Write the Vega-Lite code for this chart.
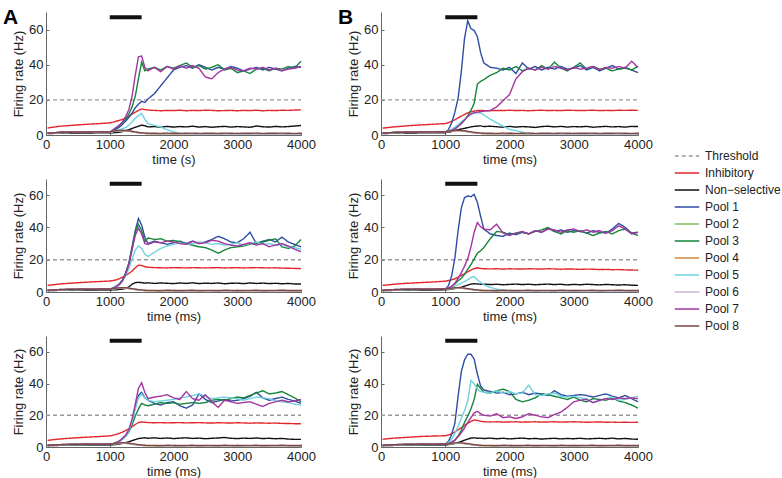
{
"$schema": "https://vega.github.io/schema/vega-lite/v6.json",
"padding": {"left": 3, "top": 7, "right": 5, "bottom": 0},
"background": "white",
"datasets": {
"stim": [{"on": 1000, "off": 1500}],
"A1": [
{"t":0,"Th":20},
{"t":25,"I":4.0,"N":0.8,"P1":1.0,"P2":1.1,"P3":1.0,"P4":1.0,"P5":1.0,"P6":1.0,"P7":1.0,"P8":1.1},
{"t":200,"I":4.9,"N":1.0,"P1":1.4,"P2":1.3,"P3":1.5,"P4":1.4,"P5":1.3,"P6":1.3,"P7":1.5,"P8":1.4},
{"t":400,"I":5.5,"N":1.1,"P1":1.6,"P2":1.5,"P3":1.6,"P4":1.6,"P5":1.5,"P6":1.5,"P7":1.7,"P8":1.6},
{"t":600,"I":6.0,"N":1.1,"P1":1.7,"P2":1.6,"P3":1.7,"P4":1.7,"P5":1.6,"P6":1.7,"P7":1.8,"P8":1.7},
{"t":800,"I":6.4,"N":1.2,"P1":1.7,"P2":1.7,"P3":1.7,"P4":1.7,"P5":1.6,"P6":1.8,"P7":1.8,"P8":1.8},
{"t":1000,"I":6.9,"N":1.2,"P1":1.6,"P2":1.8,"P3":1.6,"P4":1.9,"P5":1.5,"P6":1.8,"P7":1.6,"P8":1.9},
{"t":1050,"I":7.3,"N":1.3,"P1":2.3,"P2":1.9,"P3":2.5,"P4":2.0,"P5":1.9,"P6":2.0,"P7":3.0,"P8":2.1},
{"t":1100,"I":7.8,"N":1.4,"P1":3.2,"P2":2.1,"P3":3.8,"P4":2.2,"P5":2.4,"P6":2.2,"P7":4.3,"P8":2.4},
{"t":1150,"I":8.3,"N":1.6,"P1":4.5,"P2":2.3,"P3":5.5,"P4":2.4,"P5":3.0,"P6":2.3,"P7":5.5,"P8":2.6},
{"t":1200,"I":8.9,"N":1.9,"P1":6.0,"P2":2.4,"P3":7.0,"P4":2.5,"P5":3.6,"P6":2.4,"P7":7.5,"P8":2.7},
{"t":1250,"I":9.7,"N":2.4,"P1":8.0,"P2":2.3,"P3":9.0,"P4":2.4,"P5":4.3,"P6":2.4,"P7":10.5,"P8":2.6},
{"t":1300,"I":10.6,"N":3.0,"P1":10.0,"P2":2.1,"P3":12.0,"P4":2.2,"P5":5.5,"P6":2.2,"P7":14.5,"P8":2.4},
{"t":1350,"I":11.8,"N":3.7,"P1":12.5,"P2":1.8,"P3":16.0,"P4":1.9,"P5":7.5,"P6":1.9,"P7":22.0,"P8":2.1},
{"t":1400,"I":13.0,"N":4.4,"P1":15.5,"P2":1.5,"P3":22.0,"P4":1.6,"P5":9.5,"P6":1.6,"P7":34.0,"P8":1.8},
{"t":1450,"I":14.0,"N":5.0,"P1":17.5,"P2":1.2,"P3":32.0,"P4":1.3,"P5":11.0,"P6":1.3,"P7":44.5,"P8":1.5},
{"t":1500,"I":14.8,"N":5.6,"P1":19.2,"P2":1.0,"P3":41.5,"P4":1.1,"P5":12.2,"P6":1.1,"P7":45.0,"P8":1.3},
{"t":1550,"I":14.5,"N":5.3,"P1":18.5,"P2":0.9,"P3":36.5,"P4":0.9,"P5":9.0,"P6":0.9,"P7":38.5,"P8":1.1},
{"t":1600,"I":14.2,"N":4.6,"P1":20.5,"P2":0.8,"P3":37.5,"P4":0.8,"P5":6.5,"P6":0.8,"P7":36.5,"P8":1.0},
{"t":1700,"I":14.0,"N":4.8,"P1":23.5,"P2":0.7,"P3":38.5,"P4":0.7,"P5":5.5,"P6":0.7,"P7":38.5,"P8":1.0},
{"t":1800,"I":13.8,"N":4.4,"P1":28.0,"P2":0.7,"P3":37.0,"P4":0.6,"P5":4.5,"P6":0.7,"P7":36.0,"P8":0.9},
{"t":1900,"I":14.0,"N":4.9,"P1":32.5,"P2":0.6,"P3":39.0,"P4":0.7,"P5":3.0,"P6":0.6,"P7":39.0,"P8":1.1},
{"t":2000,"I":13.9,"N":4.5,"P1":37.0,"P2":0.6,"P3":38.0,"P4":0.6,"P5":1.8,"P6":0.7,"P7":37.5,"P8":1.0},
{"t":2100,"I":14.1,"N":4.8,"P1":38.5,"P2":0.7,"P3":39.5,"P4":0.6,"P5":1.0,"P6":0.6,"P7":39.5,"P8":0.9},
{"t":2200,"I":13.8,"N":4.6,"P1":39.5,"P2":0.6,"P3":41.0,"P4":0.7,"P5":0.8,"P6":0.6,"P7":38.0,"P8":1.0},
{"t":2300,"I":14.0,"N":5.0,"P1":38.0,"P2":0.6,"P3":38.5,"P4":0.6,"P5":0.7,"P6":0.7,"P7":39.5,"P8":1.1},
{"t":2400,"I":13.9,"N":4.5,"P1":40.0,"P2":0.7,"P3":39.5,"P4":0.6,"P5":0.6,"P6":0.6,"P7":38.0,"P8":0.9},
{"t":2500,"I":14.1,"N":4.8,"P1":38.5,"P2":0.6,"P3":37.5,"P4":0.6,"P5":0.7,"P6":0.6,"P7":33.0,"P8":1.0},
{"t":2600,"I":14.0,"N":4.4,"P1":37.0,"P2":0.6,"P3":38.5,"P4":0.7,"P5":0.6,"P6":0.6,"P7":32.0,"P8":1.0},
{"t":2700,"I":13.8,"N":4.7,"P1":38.5,"P2":0.7,"P3":40.0,"P4":0.6,"P5":0.7,"P6":0.7,"P7":35.5,"P8":0.9},
{"t":2800,"I":13.9,"N":4.9,"P1":37.5,"P2":0.6,"P3":37.0,"P4":0.6,"P5":0.6,"P6":0.6,"P7":37.5,"P8":1.1},
{"t":2900,"I":14.0,"N":4.5,"P1":39.0,"P2":0.6,"P3":38.0,"P4":0.7,"P5":0.6,"P6":0.6,"P7":38.5,"P8":1.0},
{"t":3000,"I":13.8,"N":4.8,"P1":38.0,"P2":0.7,"P3":35.5,"P4":0.6,"P5":0.7,"P6":0.6,"P7":37.0,"P8":0.9},
{"t":3100,"I":14.0,"N":4.6,"P1":36.5,"P2":0.6,"P3":36.5,"P4":0.6,"P5":0.6,"P6":0.7,"P7":36.5,"P8":1.0},
{"t":3200,"I":13.9,"N":4.4,"P1":37.5,"P2":0.6,"P3":35.0,"P4":0.7,"P5":0.6,"P6":0.6,"P7":38.0,"P8":1.0},
{"t":3300,"I":14.1,"N":5.1,"P1":38.5,"P2":0.6,"P3":37.5,"P4":0.6,"P5":0.7,"P6":0.6,"P7":37.5,"P8":1.1},
{"t":3400,"I":13.8,"N":4.7,"P1":37.0,"P2":0.7,"P3":38.0,"P4":0.6,"P5":0.6,"P6":0.7,"P7":38.5,"P8":0.9},
{"t":3500,"I":14.0,"N":4.5,"P1":38.5,"P2":0.6,"P3":36.5,"P4":0.6,"P5":0.6,"P6":0.6,"P7":37.0,"P8":1.0},
{"t":3600,"I":13.9,"N":4.9,"P1":37.5,"P2":0.6,"P3":38.0,"P4":0.7,"P5":0.7,"P6":0.6,"P7":38.0,"P8":1.0},
{"t":3700,"I":14.1,"N":4.6,"P1":36.5,"P2":0.7,"P3":37.5,"P4":0.6,"P5":0.6,"P6":0.6,"P7":36.5,"P8":1.1},
{"t":3800,"I":14.0,"N":4.8,"P1":38.0,"P2":0.6,"P3":39.0,"P4":0.6,"P5":0.6,"P6":0.7,"P7":37.5,"P8":1.0},
{"t":3900,"I":14.2,"N":5.1,"P1":39.0,"P2":0.6,"P3":38.0,"P4":0.7,"P5":0.7,"P6":0.6,"P7":38.0,"P8":0.9},
{"t":4000,"I":14.3,"N":5.4,"P1":38.5,"P2":0.6,"P3":42.0,"P4":0.6,"P5":0.6,"P6":0.6,"P7":39.0,"P8":1.0,"Th":20}
],
"B1": [
{"t":0,"Th":20},
{"t":25,"I":3.9,"N":0.8,"P1":1.0,"P2":1.1,"P3":1.0,"P4":1.0,"P5":1.0,"P6":1.0,"P7":1.0,"P8":1.1},
{"t":200,"I":4.6,"N":1.0,"P1":1.4,"P2":1.3,"P3":1.5,"P4":1.4,"P5":1.3,"P6":1.3,"P7":1.5,"P8":1.4},
{"t":400,"I":5.2,"N":1.1,"P1":1.6,"P2":1.5,"P3":1.6,"P4":1.6,"P5":1.5,"P6":1.5,"P7":1.7,"P8":1.6},
{"t":600,"I":5.7,"N":1.2,"P1":1.7,"P2":1.6,"P3":1.7,"P4":1.7,"P5":1.6,"P6":1.7,"P7":1.8,"P8":1.7},
{"t":800,"I":6.1,"N":1.2,"P1":1.7,"P2":1.7,"P3":1.7,"P4":1.7,"P5":1.6,"P6":1.8,"P7":1.8,"P8":1.8},
{"t":1000,"I":6.5,"N":1.3,"P1":1.6,"P2":1.8,"P3":1.6,"P4":1.9,"P5":1.5,"P6":1.8,"P7":1.6,"P8":1.9},
{"t":1050,"I":7.0,"N":1.6,"P1":3.0,"P2":1.9,"P3":2.0,"P4":2.0,"P5":2.2,"P6":2.0,"P7":2.0,"P8":2.1},
{"t":1100,"I":7.8,"N":2.0,"P1":7.0,"P2":2.1,"P3":2.8,"P4":2.2,"P5":3.2,"P6":2.2,"P7":2.7,"P8":2.4},
{"t":1150,"I":8.7,"N":2.5,"P1":13.0,"P2":2.3,"P3":3.8,"P4":2.4,"P5":4.5,"P6":2.3,"P7":3.4,"P8":2.6},
{"t":1200,"I":9.7,"N":3.0,"P1":21.0,"P2":2.4,"P3":5.0,"P4":2.5,"P5":6.0,"P6":2.4,"P7":4.8,"P8":2.7},
{"t":1250,"I":10.7,"N":3.4,"P1":36.0,"P2":2.3,"P3":6.5,"P4":2.4,"P5":7.5,"P6":2.4,"P7":6.5,"P8":2.6},
{"t":1300,"I":11.7,"N":3.8,"P1":55.0,"P2":2.1,"P3":8.5,"P4":2.2,"P5":9.0,"P6":2.2,"P7":8.5,"P8":2.4},
{"t":1350,"I":12.6,"N":4.2,"P1":65.0,"P2":1.8,"P3":11.0,"P4":1.9,"P5":10.5,"P6":1.9,"P7":10.5,"P8":2.1},
{"t":1400,"I":13.2,"N":4.6,"P1":60.5,"P2":1.5,"P3":14.0,"P4":1.6,"P5":11.8,"P6":1.6,"P7":12.0,"P8":1.8},
{"t":1450,"I":13.6,"N":4.9,"P1":59.5,"P2":1.2,"P3":18.0,"P4":1.3,"P5":12.3,"P6":1.3,"P7":12.8,"P8":1.5},
{"t":1500,"I":13.9,"N":5.1,"P1":56.0,"P2":1.0,"P3":29.0,"P4":1.1,"P5":12.6,"P6":1.1,"P7":13.0,"P8":1.3},
{"t":1550,"I":14.0,"N":5.2,"P1":47.0,"P2":0.9,"P3":30.5,"P4":0.9,"P5":12.5,"P6":0.9,"P7":13.3,"P8":1.1},
{"t":1600,"I":13.9,"N":4.8,"P1":41.0,"P2":0.8,"P3":31.5,"P4":0.8,"P5":11.5,"P6":0.8,"P7":13.5,"P8":1.0},
{"t":1700,"I":13.8,"N":5.0,"P1":38.5,"P2":0.7,"P3":34.0,"P4":0.7,"P5":9.0,"P6":0.7,"P7":14.0,"P8":1.0},
{"t":1800,"I":14.0,"N":4.7,"P1":38.0,"P2":0.7,"P3":35.5,"P4":0.6,"P5":7.0,"P6":0.7,"P7":16.0,"P8":0.9},
{"t":1900,"I":13.9,"N":4.4,"P1":37.0,"P2":0.6,"P3":38.0,"P4":0.7,"P5":5.0,"P6":0.6,"P7":19.5,"P8":1.1},
{"t":2000,"I":14.1,"N":4.9,"P1":38.5,"P2":0.6,"P3":37.0,"P4":0.6,"P5":3.2,"P6":0.7,"P7":23.0,"P8":1.0},
{"t":2100,"I":13.9,"N":4.5,"P1":35.0,"P2":0.7,"P3":39.0,"P4":0.6,"P5":2.5,"P6":0.6,"P7":32.0,"P8":0.9},
{"t":2200,"I":14.0,"N":4.8,"P1":41.0,"P2":0.6,"P3":36.5,"P4":0.7,"P5":1.5,"P6":0.6,"P7":36.0,"P8":1.0},
{"t":2300,"I":13.8,"N":4.6,"P1":37.5,"P2":0.6,"P3":38.0,"P4":0.6,"P5":0.9,"P6":0.7,"P7":38.0,"P8":1.1},
{"t":2400,"I":14.0,"N":4.3,"P1":39.0,"P2":0.7,"P3":37.0,"P4":0.6,"P5":0.7,"P6":0.6,"P7":37.0,"P8":0.9},
{"t":2500,"I":14.1,"N":4.8,"P1":37.0,"P2":0.6,"P3":39.5,"P4":0.6,"P5":0.6,"P6":0.6,"P7":38.5,"P8":1.0},
{"t":2600,"I":13.9,"N":5.0,"P1":38.5,"P2":0.6,"P3":37.5,"P4":0.7,"P5":0.7,"P6":0.6,"P7":37.5,"P8":1.0},
{"t":2700,"I":14.0,"N":4.6,"P1":37.5,"P2":0.7,"P3":41.5,"P4":0.6,"P5":0.6,"P6":0.7,"P7":39.0,"P8":0.9},
{"t":2800,"I":13.9,"N":4.9,"P1":39.0,"P2":0.6,"P3":38.0,"P4":0.6,"P5":0.6,"P6":0.6,"P7":38.0,"P8":1.1},
{"t":2900,"I":14.1,"N":4.5,"P1":37.5,"P2":0.6,"P3":36.5,"P4":0.7,"P5":0.7,"P6":0.6,"P7":37.0,"P8":1.0},
{"t":3000,"I":14.0,"N":4.8,"P1":38.0,"P2":0.7,"P3":38.5,"P4":0.6,"P5":0.6,"P6":0.6,"P7":38.5,"P8":0.9},
{"t":3100,"I":13.9,"N":4.6,"P1":39.5,"P2":0.6,"P3":41.0,"P4":0.6,"P5":0.6,"P6":0.7,"P7":37.5,"P8":1.0},
{"t":3200,"I":14.0,"N":4.9,"P1":37.0,"P2":0.6,"P3":37.5,"P4":0.7,"P5":0.7,"P6":0.6,"P7":38.0,"P8":1.0},
{"t":3300,"I":14.1,"N":4.4,"P1":38.5,"P2":0.6,"P3":39.0,"P4":0.6,"P5":0.6,"P6":0.6,"P7":39.0,"P8":1.1},
{"t":3400,"I":13.9,"N":4.7,"P1":36.5,"P2":0.7,"P3":37.5,"P4":0.6,"P5":0.6,"P6":0.7,"P7":37.0,"P8":0.9},
{"t":3500,"I":14.0,"N":4.9,"P1":38.0,"P2":0.6,"P3":38.0,"P4":0.6,"P5":0.7,"P6":0.6,"P7":38.5,"P8":1.0},
{"t":3600,"I":13.9,"N":4.6,"P1":39.5,"P2":0.6,"P3":36.5,"P4":0.7,"P5":0.6,"P6":0.6,"P7":38.0,"P8":1.0},
{"t":3700,"I":14.1,"N":4.8,"P1":37.5,"P2":0.7,"P3":37.5,"P4":0.6,"P5":0.6,"P6":0.6,"P7":39.0,"P8":1.1},
{"t":3800,"I":14.0,"N":4.5,"P1":38.5,"P2":0.6,"P3":38.0,"P4":0.6,"P5":0.7,"P6":0.7,"P7":38.0,"P8":1.0},
{"t":3900,"I":14.1,"N":4.9,"P1":37.0,"P2":0.6,"P3":37.0,"P4":0.7,"P5":0.6,"P6":0.6,"P7":42.0,"P8":0.9},
{"t":4000,"I":14.0,"N":4.8,"P1":35.5,"P2":0.6,"P3":39.0,"P4":0.6,"P5":0.6,"P6":0.6,"P7":38.5,"P8":1.0,"Th":20}
],
"A2": [
{"t":0,"Th":20},
{"t":25,"I":4.1,"N":0.8,"P1":1.0,"P2":1.1,"P3":1.0,"P4":1.0,"P5":1.0,"P6":1.0,"P7":1.0,"P8":1.1},
{"t":200,"I":4.9,"N":1.0,"P1":1.4,"P2":1.3,"P3":1.5,"P4":1.4,"P5":1.3,"P6":1.3,"P7":1.5,"P8":1.4},
{"t":400,"I":5.5,"N":1.1,"P1":1.6,"P2":1.5,"P3":1.6,"P4":1.6,"P5":1.5,"P6":1.5,"P7":1.7,"P8":1.6},
{"t":600,"I":6.0,"N":1.2,"P1":1.7,"P2":1.6,"P3":1.7,"P4":1.7,"P5":1.6,"P6":1.7,"P7":1.8,"P8":1.7},
{"t":800,"I":6.4,"N":1.2,"P1":1.7,"P2":1.7,"P3":1.7,"P4":1.7,"P5":1.6,"P6":1.8,"P7":1.8,"P8":1.8},
{"t":1000,"I":6.8,"N":1.2,"P1":1.6,"P2":1.8,"P3":1.6,"P4":1.9,"P5":1.5,"P6":1.8,"P7":1.6,"P8":1.9},
{"t":1050,"I":7.1,"N":1.3,"P1":2.5,"P2":1.9,"P3":2.4,"P4":2.0,"P5":2.2,"P6":2.0,"P7":2.3,"P8":2.1},
{"t":1100,"I":7.5,"N":1.4,"P1":3.5,"P2":2.1,"P3":3.3,"P4":2.2,"P5":3.0,"P6":2.2,"P7":3.2,"P8":2.4},
{"t":1150,"I":8.2,"N":1.6,"P1":5.0,"P2":2.3,"P3":4.8,"P4":2.4,"P5":4.3,"P6":2.3,"P7":4.6,"P8":2.6},
{"t":1200,"I":9.2,"N":1.8,"P1":7.5,"P2":2.4,"P3":7.2,"P4":2.5,"P5":6.5,"P6":2.4,"P7":7.0,"P8":2.7},
{"t":1250,"I":10.3,"N":2.2,"P1":12.0,"P2":2.3,"P3":11.5,"P4":2.4,"P5":10.0,"P6":2.4,"P7":11.0,"P8":2.6},
{"t":1300,"I":11.5,"N":3.2,"P1":18.0,"P2":2.1,"P3":17.5,"P4":2.2,"P5":14.5,"P6":2.2,"P7":17.0,"P8":2.4},
{"t":1350,"I":13.0,"N":4.8,"P1":28.0,"P2":1.8,"P3":27.0,"P4":1.9,"P5":20.5,"P6":1.9,"P7":26.0,"P8":2.1},
{"t":1400,"I":15.0,"N":5.8,"P1":38.0,"P2":1.5,"P3":37.0,"P4":1.6,"P5":26.0,"P6":1.6,"P7":35.0,"P8":1.8},
{"t":1450,"I":16.6,"N":6.0,"P1":45.5,"P2":1.2,"P3":42.0,"P4":1.3,"P5":28.5,"P6":1.3,"P7":39.5,"P8":1.5},
{"t":1500,"I":16.4,"N":5.8,"P1":41.5,"P2":1.0,"P3":38.0,"P4":1.1,"P5":27.0,"P6":1.1,"P7":36.0,"P8":1.3},
{"t":1550,"I":15.7,"N":5.5,"P1":34.0,"P2":0.9,"P3":31.0,"P4":0.9,"P5":23.5,"P6":0.9,"P7":30.0,"P8":1.1},
{"t":1600,"I":15.3,"N":5.7,"P1":30.0,"P2":0.8,"P3":33.5,"P4":0.8,"P5":22.0,"P6":0.8,"P7":29.5,"P8":1.0},
{"t":1700,"I":15.1,"N":5.3,"P1":31.5,"P2":0.7,"P3":32.5,"P4":0.7,"P5":24.5,"P6":0.7,"P7":31.0,"P8":1.0},
{"t":1800,"I":15.0,"N":5.6,"P1":30.5,"P2":0.7,"P3":33.0,"P4":0.6,"P5":27.0,"P6":0.7,"P7":30.5,"P8":0.9},
{"t":1900,"I":14.9,"N":5.4,"P1":29.5,"P2":0.6,"P3":31.5,"P4":0.7,"P5":28.5,"P6":0.6,"P7":31.5,"P8":1.1},
{"t":2000,"I":15.1,"N":5.2,"P1":30.5,"P2":0.6,"P3":32.0,"P4":0.6,"P5":29.5,"P6":0.7,"P7":31.0,"P8":1.0},
{"t":2100,"I":15.0,"N":5.6,"P1":31.5,"P2":0.7,"P3":31.0,"P4":0.6,"P5":30.5,"P6":0.6,"P7":30.0,"P8":0.9},
{"t":2200,"I":14.9,"N":5.3,"P1":30.0,"P2":0.6,"P3":30.0,"P4":0.7,"P5":29.5,"P6":0.6,"P7":29.5,"P8":1.0},
{"t":2300,"I":15.1,"N":5.7,"P1":31.5,"P2":0.6,"P3":29.0,"P4":0.6,"P5":30.0,"P6":0.7,"P7":31.5,"P8":1.1},
{"t":2400,"I":15.0,"N":5.2,"P1":30.0,"P2":0.7,"P3":28.0,"P4":0.6,"P5":31.0,"P6":0.6,"P7":30.0,"P8":0.9},
{"t":2500,"I":14.9,"N":5.5,"P1":31.0,"P2":0.6,"P3":27.5,"P4":0.6,"P5":30.5,"P6":0.6,"P7":30.5,"P8":1.0},
{"t":2600,"I":15.0,"N":5.3,"P1":32.5,"P2":0.6,"P3":26.0,"P4":0.7,"P5":29.5,"P6":0.6,"P7":32.0,"P8":1.0},
{"t":2700,"I":15.1,"N":5.6,"P1":34.5,"P2":0.7,"P3":24.0,"P4":0.6,"P5":30.0,"P6":0.7,"P7":31.5,"P8":0.9},
{"t":2800,"I":14.9,"N":5.1,"P1":33.0,"P2":0.6,"P3":26.0,"P4":0.6,"P5":29.0,"P6":0.6,"P7":30.0,"P8":1.1},
{"t":2900,"I":15.0,"N":5.4,"P1":31.0,"P2":0.6,"P3":27.5,"P4":0.7,"P5":29.5,"P6":0.6,"P7":29.0,"P8":1.0},
{"t":3000,"I":15.1,"N":5.5,"P1":30.5,"P2":0.7,"P3":28.0,"P4":0.6,"P5":30.5,"P6":0.6,"P7":28.5,"P8":0.9},
{"t":3100,"I":14.9,"N":5.2,"P1":33.0,"P2":0.6,"P3":28.5,"P4":0.6,"P5":29.0,"P6":0.7,"P7":29.5,"P8":1.0},
{"t":3200,"I":15.0,"N":5.6,"P1":37.0,"P2":0.6,"P3":29.5,"P4":0.7,"P5":30.0,"P6":0.6,"P7":30.5,"P8":1.0},
{"t":3300,"I":15.1,"N":5.3,"P1":30.0,"P2":0.6,"P3":30.5,"P4":0.6,"P5":31.0,"P6":0.6,"P7":29.0,"P8":1.1},
{"t":3400,"I":15.0,"N":5.5,"P1":31.5,"P2":0.7,"P3":31.0,"P4":0.6,"P5":29.5,"P6":0.7,"P7":30.0,"P8":0.9},
{"t":3500,"I":14.9,"N":5.2,"P1":32.5,"P2":0.6,"P3":32.0,"P4":0.6,"P5":30.0,"P6":0.6,"P7":28.0,"P8":1.0},
{"t":3600,"I":15.0,"N":5.4,"P1":31.0,"P2":0.6,"P3":33.0,"P4":0.7,"P5":29.0,"P6":0.6,"P7":29.0,"P8":1.0},
{"t":3700,"I":14.8,"N":5.1,"P1":34.0,"P2":0.7,"P3":28.0,"P4":0.6,"P5":29.5,"P6":0.6,"P7":30.0,"P8":1.1},
{"t":3800,"I":14.7,"N":5.3,"P1":31.0,"P2":0.6,"P3":27.0,"P4":0.6,"P5":28.0,"P6":0.7,"P7":28.5,"P8":1.0},
{"t":3900,"I":14.6,"N":5.0,"P1":29.5,"P2":0.6,"P3":28.5,"P4":0.7,"P5":27.5,"P6":0.6,"P7":26.5,"P8":0.9},
{"t":4000,"I":14.5,"N":4.9,"P1":28.0,"P2":0.6,"P3":32.5,"P4":0.6,"P5":26.5,"P6":0.6,"P7":25.0,"P8":1.0,"Th":20}
],
"B2": [
{"t":0,"Th":20},
{"t":25,"I":4.1,"N":0.8,"P1":1.0,"P2":1.1,"P3":1.0,"P4":1.0,"P5":1.0,"P6":1.0,"P7":1.0,"P8":1.1},
{"t":200,"I":4.8,"N":1.0,"P1":1.4,"P2":1.3,"P3":1.5,"P4":1.4,"P5":1.3,"P6":1.3,"P7":1.5,"P8":1.4},
{"t":400,"I":5.4,"N":1.1,"P1":1.6,"P2":1.5,"P3":1.6,"P4":1.6,"P5":1.5,"P6":1.5,"P7":1.7,"P8":1.6},
{"t":600,"I":5.8,"N":1.2,"P1":1.7,"P2":1.6,"P3":1.7,"P4":1.7,"P5":1.6,"P6":1.7,"P7":1.8,"P8":1.7},
{"t":800,"I":6.2,"N":1.2,"P1":1.7,"P2":1.7,"P3":1.7,"P4":1.7,"P5":1.6,"P6":1.8,"P7":1.8,"P8":1.8},
{"t":1000,"I":6.7,"N":1.3,"P1":1.6,"P2":1.8,"P3":1.6,"P4":1.9,"P5":1.5,"P6":1.8,"P7":1.6,"P8":1.9},
{"t":1050,"I":7.1,"N":1.5,"P1":4.0,"P2":1.9,"P3":2.3,"P4":2.0,"P5":2.0,"P6":2.0,"P7":2.5,"P8":2.1},
{"t":1100,"I":7.6,"N":1.8,"P1":10.0,"P2":2.1,"P3":3.5,"P4":2.2,"P5":2.8,"P6":2.2,"P7":3.5,"P8":2.4},
{"t":1150,"I":8.2,"N":2.2,"P1":21.0,"P2":2.3,"P3":5.0,"P4":2.4,"P5":3.6,"P6":2.3,"P7":5.5,"P8":2.6},
{"t":1200,"I":9.2,"N":2.6,"P1":38.0,"P2":2.4,"P3":7.0,"P4":2.5,"P5":4.5,"P6":2.4,"P7":8.5,"P8":2.7},
{"t":1250,"I":10.3,"N":3.0,"P1":52.0,"P2":2.3,"P3":8.5,"P4":2.4,"P5":5.5,"P6":2.4,"P7":12.0,"P8":2.6},
{"t":1300,"I":11.3,"N":3.6,"P1":58.5,"P2":2.1,"P3":11.0,"P4":2.2,"P5":6.5,"P6":2.2,"P7":16.0,"P8":2.4},
{"t":1350,"I":12.5,"N":4.3,"P1":59.5,"P2":1.8,"P3":14.0,"P4":1.9,"P5":7.5,"P6":1.9,"P7":20.5,"P8":2.1},
{"t":1400,"I":13.6,"N":4.9,"P1":59.0,"P2":1.5,"P3":17.0,"P4":1.6,"P5":9.0,"P6":1.6,"P7":28.0,"P8":1.8},
{"t":1450,"I":14.5,"N":5.1,"P1":60.5,"P2":1.2,"P3":20.5,"P4":1.3,"P5":9.5,"P6":1.3,"P7":37.0,"P8":1.5},
{"t":1500,"I":15.0,"N":5.0,"P1":55.5,"P2":1.0,"P3":24.0,"P4":1.1,"P5":7.5,"P6":1.1,"P7":43.0,"P8":1.3},
{"t":1550,"I":14.6,"N":4.8,"P1":47.0,"P2":0.9,"P3":25.5,"P4":0.9,"P5":6.0,"P6":0.9,"P7":40.5,"P8":1.1},
{"t":1600,"I":14.4,"N":4.9,"P1":39.0,"P2":0.8,"P3":27.5,"P4":0.8,"P5":4.5,"P6":0.8,"P7":39.0,"P8":1.0},
{"t":1700,"I":14.3,"N":4.6,"P1":36.0,"P2":0.7,"P3":33.0,"P4":0.7,"P5":2.8,"P6":0.7,"P7":38.5,"P8":1.0},
{"t":1800,"I":14.4,"N":4.8,"P1":35.0,"P2":0.7,"P3":37.5,"P4":0.6,"P5":1.8,"P6":0.7,"P7":42.0,"P8":0.9},
{"t":1900,"I":14.2,"N":4.5,"P1":34.5,"P2":0.6,"P3":37.0,"P4":0.7,"P5":1.0,"P6":0.6,"P7":36.5,"P8":1.1},
{"t":2000,"I":14.4,"N":4.7,"P1":36.5,"P2":0.6,"P3":35.5,"P4":0.6,"P5":0.8,"P6":0.7,"P7":35.0,"P8":1.0},
{"t":2100,"I":14.3,"N":4.9,"P1":35.5,"P2":0.7,"P3":36.5,"P4":0.6,"P5":0.7,"P6":0.6,"P7":36.5,"P8":0.9},
{"t":2200,"I":14.2,"N":4.6,"P1":37.0,"P2":0.6,"P3":37.0,"P4":0.7,"P5":0.6,"P6":0.6,"P7":37.5,"P8":1.0},
{"t":2300,"I":14.4,"N":4.8,"P1":36.0,"P2":0.6,"P3":36.0,"P4":0.6,"P5":0.7,"P6":0.7,"P7":36.0,"P8":1.1},
{"t":2400,"I":14.3,"N":4.5,"P1":38.0,"P2":0.7,"P3":37.5,"P4":0.6,"P5":0.6,"P6":0.6,"P7":38.0,"P8":0.9},
{"t":2500,"I":14.2,"N":4.7,"P1":37.0,"P2":0.6,"P3":38.5,"P4":0.6,"P5":0.6,"P6":0.6,"P7":37.0,"P8":1.0},
{"t":2600,"I":14.4,"N":4.9,"P1":39.5,"P2":0.6,"P3":40.0,"P4":0.7,"P5":0.7,"P6":0.6,"P7":39.0,"P8":1.0},
{"t":2700,"I":14.3,"N":4.6,"P1":37.5,"P2":0.7,"P3":37.5,"P4":0.6,"P5":0.6,"P6":0.7,"P7":38.5,"P8":0.9},
{"t":2800,"I":14.1,"N":4.8,"P1":38.5,"P2":0.6,"P3":36.0,"P4":0.6,"P5":0.6,"P6":0.6,"P7":37.0,"P8":1.1},
{"t":2900,"I":14.3,"N":4.4,"P1":37.0,"P2":0.6,"P3":38.0,"P4":0.7,"P5":0.7,"P6":0.6,"P7":38.5,"P8":1.0},
{"t":3000,"I":14.2,"N":4.7,"P1":38.0,"P2":0.7,"P3":37.0,"P4":0.6,"P5":0.6,"P6":0.6,"P7":39.0,"P8":0.9},
{"t":3100,"I":14.0,"N":4.5,"P1":37.5,"P2":0.6,"P3":38.0,"P4":0.6,"P5":0.6,"P6":0.7,"P7":37.5,"P8":1.0},
{"t":3200,"I":14.2,"N":4.8,"P1":36.5,"P2":0.6,"P3":36.5,"P4":0.7,"P5":0.7,"P6":0.6,"P7":38.5,"P8":1.0},
{"t":3300,"I":14.1,"N":4.6,"P1":38.0,"P2":0.6,"P3":35.0,"P4":0.6,"P5":0.6,"P6":0.6,"P7":37.0,"P8":1.1},
{"t":3400,"I":13.9,"N":4.4,"P1":37.0,"P2":0.7,"P3":36.5,"P4":0.6,"P5":0.6,"P6":0.7,"P7":38.0,"P8":0.9},
{"t":3500,"I":14.0,"N":4.7,"P1":36.5,"P2":0.6,"P3":37.5,"P4":0.6,"P5":0.7,"P6":0.6,"P7":36.5,"P8":1.0},
{"t":3600,"I":13.8,"N":4.5,"P1":39.0,"P2":0.6,"P3":36.0,"P4":0.7,"P5":0.6,"P6":0.6,"P7":38.0,"P8":1.0},
{"t":3700,"I":13.9,"N":4.3,"P1":42.5,"P2":0.7,"P3":38.0,"P4":0.6,"P5":0.6,"P6":0.6,"P7":41.0,"P8":1.1},
{"t":3800,"I":13.7,"N":4.5,"P1":40.0,"P2":0.6,"P3":39.0,"P4":0.6,"P5":0.7,"P6":0.7,"P7":39.0,"P8":1.0},
{"t":3900,"I":13.6,"N":4.2,"P1":36.5,"P2":0.6,"P3":36.5,"P4":0.7,"P5":0.6,"P6":0.6,"P7":36.0,"P8":0.9},
{"t":4000,"I":13.5,"N":4.1,"P1":37.0,"P2":0.6,"P3":35.0,"P4":0.6,"P5":0.6,"P6":0.6,"P7":37.0,"P8":1.0,"Th":20}
],
"A3": [
{"t":0,"Th":20},
{"t":25,"I":4.2,"N":0.8,"P1":1.0,"P2":1.1,"P3":1.0,"P4":1.0,"P5":1.0,"P6":1.0,"P7":1.0,"P8":1.1},
{"t":200,"I":5.0,"N":1.0,"P1":1.4,"P2":1.3,"P3":1.5,"P4":1.4,"P5":1.3,"P6":1.3,"P7":1.5,"P8":1.4},
{"t":400,"I":5.6,"N":1.1,"P1":1.6,"P2":1.5,"P3":1.6,"P4":1.6,"P5":1.5,"P6":1.5,"P7":1.7,"P8":1.6},
{"t":600,"I":6.1,"N":1.2,"P1":1.7,"P2":1.6,"P3":1.7,"P4":1.7,"P5":1.6,"P6":1.7,"P7":1.8,"P8":1.7},
{"t":800,"I":6.5,"N":1.2,"P1":1.7,"P2":1.7,"P3":1.7,"P4":1.7,"P5":1.6,"P6":1.8,"P7":1.8,"P8":1.8},
{"t":1000,"I":7.0,"N":1.3,"P1":1.6,"P2":1.8,"P3":1.6,"P4":1.9,"P5":1.5,"P6":1.8,"P7":1.6,"P8":1.9},
{"t":1050,"I":7.4,"N":1.4,"P1":2.0,"P2":1.9,"P3":2.0,"P4":2.0,"P5":2.0,"P6":2.0,"P7":2.0,"P8":2.1},
{"t":1100,"I":7.9,"N":1.6,"P1":2.8,"P2":2.1,"P3":2.7,"P4":2.2,"P5":2.8,"P6":2.2,"P7":2.8,"P8":2.4},
{"t":1150,"I":8.6,"N":1.9,"P1":3.7,"P2":2.3,"P3":3.6,"P4":2.4,"P5":3.7,"P6":2.3,"P7":3.8,"P8":2.6},
{"t":1200,"I":9.4,"N":2.3,"P1":5.3,"P2":2.4,"P3":5.0,"P4":2.5,"P5":5.2,"P6":2.4,"P7":5.5,"P8":2.7},
{"t":1250,"I":10.4,"N":2.8,"P1":7.2,"P2":2.3,"P3":6.8,"P4":2.4,"P5":7.0,"P6":2.4,"P7":7.5,"P8":2.6},
{"t":1300,"I":11.4,"N":3.3,"P1":10.5,"P2":2.1,"P3":9.5,"P4":2.2,"P5":10.0,"P6":2.2,"P7":11.0,"P8":2.4},
{"t":1350,"I":12.8,"N":4.0,"P1":16.5,"P2":1.8,"P3":14.0,"P4":1.9,"P5":16.0,"P6":1.9,"P7":17.5,"P8":2.1},
{"t":1400,"I":14.2,"N":4.7,"P1":25.0,"P2":1.5,"P3":19.5,"P4":1.6,"P5":24.0,"P6":1.6,"P7":27.0,"P8":1.8},
{"t":1450,"I":15.4,"N":5.3,"P1":32.5,"P2":1.2,"P3":24.0,"P4":1.3,"P5":31.0,"P6":1.3,"P7":37.0,"P8":1.5},
{"t":1500,"I":15.8,"N":5.6,"P1":34.5,"P2":1.0,"P3":27.5,"P4":1.1,"P5":33.5,"P6":1.1,"P7":40.5,"P8":1.3},
{"t":1550,"I":15.6,"N":5.8,"P1":31.0,"P2":0.9,"P3":26.5,"P4":0.9,"P5":31.0,"P6":0.9,"P7":34.5,"P8":1.1},
{"t":1600,"I":15.4,"N":5.5,"P1":29.5,"P2":0.8,"P3":26.0,"P4":0.8,"P5":29.5,"P6":0.8,"P7":30.5,"P8":1.0},
{"t":1700,"I":15.3,"N":5.8,"P1":27.5,"P2":0.7,"P3":27.0,"P4":0.7,"P5":28.5,"P6":0.7,"P7":31.5,"P8":1.0},
{"t":1800,"I":15.4,"N":5.4,"P1":26.5,"P2":0.7,"P3":28.0,"P4":0.6,"P5":29.0,"P6":0.7,"P7":32.0,"P8":0.9},
{"t":1900,"I":15.2,"N":5.7,"P1":28.0,"P2":0.6,"P3":27.5,"P4":0.7,"P5":29.5,"P6":0.6,"P7":33.0,"P8":1.1},
{"t":2000,"I":15.3,"N":5.3,"P1":28.5,"P2":0.6,"P3":28.0,"P4":0.6,"P5":30.0,"P6":0.7,"P7":31.0,"P8":1.0},
{"t":2100,"I":15.4,"N":5.6,"P1":26.0,"P2":0.7,"P3":27.0,"P4":0.6,"P5":31.0,"P6":0.6,"P7":30.0,"P8":0.9},
{"t":2200,"I":15.2,"N":5.8,"P1":24.5,"P2":0.6,"P3":27.5,"P4":0.7,"P5":31.5,"P6":0.6,"P7":35.0,"P8":1.0},
{"t":2300,"I":15.3,"N":5.4,"P1":26.5,"P2":0.6,"P3":28.0,"P4":0.6,"P5":32.5,"P6":0.7,"P7":30.5,"P8":1.1},
{"t":2400,"I":15.4,"N":5.6,"P1":33.5,"P2":0.7,"P3":27.5,"P4":0.6,"P5":33.5,"P6":0.6,"P7":29.5,"P8":0.9},
{"t":2500,"I":15.2,"N":5.2,"P1":30.0,"P2":0.6,"P3":28.0,"P4":0.6,"P5":32.0,"P6":0.6,"P7":33.0,"P8":1.0},
{"t":2600,"I":15.1,"N":5.5,"P1":28.0,"P2":0.6,"P3":29.5,"P4":0.7,"P5":30.5,"P6":0.6,"P7":28.5,"P8":1.0},
{"t":2700,"I":15.3,"N":5.7,"P1":29.0,"P2":0.7,"P3":30.0,"P4":0.6,"P5":31.0,"P6":0.7,"P7":25.0,"P8":0.9},
{"t":2800,"I":15.2,"N":6.0,"P1":30.0,"P2":0.6,"P3":29.5,"P4":0.6,"P5":31.5,"P6":0.6,"P7":29.5,"P8":1.1},
{"t":2900,"I":15.1,"N":5.5,"P1":29.0,"P2":0.6,"P3":30.5,"P4":0.7,"P5":31.0,"P6":0.6,"P7":28.5,"P8":1.0},
{"t":3000,"I":15.3,"N":5.3,"P1":29.5,"P2":0.7,"P3":31.5,"P4":0.6,"P5":30.5,"P6":0.6,"P7":27.5,"P8":0.9},
{"t":3100,"I":15.2,"N":5.6,"P1":30.5,"P2":0.6,"P3":31.0,"P4":0.6,"P5":29.5,"P6":0.7,"P7":28.0,"P8":1.0},
{"t":3200,"I":15.0,"N":5.4,"P1":32.0,"P2":0.6,"P3":32.5,"P4":0.7,"P5":30.5,"P6":0.6,"P7":28.5,"P8":1.0},
{"t":3300,"I":15.2,"N":5.7,"P1":34.5,"P2":0.6,"P3":34.0,"P4":0.6,"P5":31.5,"P6":0.6,"P7":27.0,"P8":1.1},
{"t":3400,"I":15.1,"N":5.3,"P1":31.0,"P2":0.7,"P3":35.5,"P4":0.6,"P5":31.0,"P6":0.7,"P7":25.5,"P8":0.9},
{"t":3500,"I":15.0,"N":5.5,"P1":29.5,"P2":0.6,"P3":33.5,"P4":0.6,"P5":30.5,"P6":0.6,"P7":27.5,"P8":1.0},
{"t":3600,"I":15.1,"N":5.2,"P1":30.5,"P2":0.6,"P3":34.0,"P4":0.7,"P5":29.0,"P6":0.6,"P7":28.5,"P8":1.0},
{"t":3700,"I":14.9,"N":5.4,"P1":31.5,"P2":0.7,"P3":35.0,"P4":0.6,"P5":28.5,"P6":0.6,"P7":29.5,"P8":1.1},
{"t":3800,"I":14.8,"N":5.0,"P1":30.0,"P2":0.6,"P3":33.0,"P4":0.6,"P5":28.0,"P6":0.7,"P7":28.5,"P8":1.0},
{"t":3900,"I":14.7,"N":4.8,"P1":29.0,"P2":0.6,"P3":31.0,"P4":0.7,"P5":27.0,"P6":0.6,"P7":29.0,"P8":0.9},
{"t":4000,"I":14.6,"N":4.8,"P1":27.5,"P2":0.6,"P3":28.5,"P4":0.6,"P5":26.5,"P6":0.6,"P7":30.0,"P8":1.0,"Th":20}
],
"B3": [
{"t":0,"Th":20},
{"t":25,"I":4.9,"N":0.8,"P1":1.0,"P2":1.1,"P3":1.0,"P4":1.0,"P5":1.0,"P6":1.0,"P7":1.0,"P8":1.1},
{"t":200,"I":5.6,"N":1.0,"P1":1.4,"P2":1.3,"P3":1.5,"P4":1.4,"P5":1.3,"P6":1.3,"P7":1.5,"P8":1.4},
{"t":400,"I":6.1,"N":1.1,"P1":1.6,"P2":1.5,"P3":1.6,"P4":1.6,"P5":1.5,"P6":1.5,"P7":1.7,"P8":1.6},
{"t":600,"I":6.6,"N":1.2,"P1":1.7,"P2":1.6,"P3":1.7,"P4":1.7,"P5":1.6,"P6":1.7,"P7":1.8,"P8":1.7},
{"t":800,"I":6.9,"N":1.2,"P1":1.7,"P2":1.7,"P3":1.7,"P4":1.7,"P5":1.6,"P6":1.8,"P7":1.8,"P8":1.8},
{"t":1000,"I":7.1,"N":1.3,"P1":1.8,"P2":1.8,"P3":1.6,"P4":1.9,"P5":1.5,"P6":1.8,"P7":1.6,"P8":1.9},
{"t":1050,"I":7.6,"N":1.5,"P1":3.5,"P2":1.9,"P3":2.2,"P4":2.0,"P5":2.8,"P6":2.0,"P7":2.0,"P8":2.1},
{"t":1100,"I":8.4,"N":1.8,"P1":8.0,"P2":2.1,"P3":3.0,"P4":2.2,"P5":5.0,"P6":2.2,"P7":3.0,"P8":2.4},
{"t":1150,"I":9.5,"N":2.2,"P1":15.0,"P2":2.3,"P3":4.3,"P4":2.4,"P5":8.5,"P6":2.3,"P7":4.3,"P8":2.6},
{"t":1200,"I":10.8,"N":2.8,"P1":32.0,"P2":2.4,"P3":7.0,"P4":2.5,"P5":13.0,"P6":2.4,"P7":6.5,"P8":2.7},
{"t":1250,"I":12.2,"N":3.5,"P1":47.5,"P2":2.3,"P3":10.5,"P4":2.4,"P5":18.0,"P6":2.4,"P7":9.0,"P8":2.6},
{"t":1300,"I":13.6,"N":4.3,"P1":55.0,"P2":2.1,"P3":15.5,"P4":2.2,"P5":23.0,"P6":2.2,"P7":12.0,"P8":2.4},
{"t":1350,"I":15.0,"N":5.0,"P1":58.5,"P2":1.8,"P3":19.5,"P4":1.9,"P5":29.0,"P6":1.9,"P7":15.5,"P8":2.1},
{"t":1400,"I":16.2,"N":5.6,"P1":58.5,"P2":1.5,"P3":24.0,"P4":1.6,"P5":42.0,"P6":1.6,"P7":18.5,"P8":1.8},
{"t":1450,"I":17.0,"N":5.8,"P1":55.5,"P2":1.2,"P3":30.0,"P4":1.3,"P5":40.0,"P6":1.3,"P7":21.5,"P8":1.5},
{"t":1500,"I":16.8,"N":5.5,"P1":46.0,"P2":1.0,"P3":39.5,"P4":1.1,"P5":36.5,"P6":1.1,"P7":22.5,"P8":1.3},
{"t":1550,"I":16.2,"N":5.6,"P1":38.5,"P2":0.9,"P3":37.0,"P4":0.9,"P5":35.0,"P6":0.9,"P7":21.0,"P8":1.1},
{"t":1600,"I":15.9,"N":5.3,"P1":36.0,"P2":0.8,"P3":34.5,"P4":0.8,"P5":34.5,"P6":0.8,"P7":20.0,"P8":1.0},
{"t":1700,"I":15.8,"N":5.6,"P1":35.0,"P2":0.7,"P3":34.0,"P4":0.7,"P5":34.0,"P6":0.7,"P7":19.5,"P8":1.0},
{"t":1800,"I":15.9,"N":5.2,"P1":34.0,"P2":0.7,"P3":35.5,"P4":0.6,"P5":35.5,"P6":0.7,"P7":21.0,"P8":0.9},
{"t":1900,"I":15.7,"N":5.5,"P1":34.5,"P2":0.6,"P3":36.5,"P4":0.7,"P5":34.0,"P6":0.6,"P7":18.5,"P8":1.1},
{"t":2000,"I":15.8,"N":5.1,"P1":33.0,"P2":0.6,"P3":35.0,"P4":0.6,"P5":35.0,"P6":0.7,"P7":19.0,"P8":1.0},
{"t":2100,"I":15.9,"N":5.4,"P1":33.5,"P2":0.7,"P3":30.0,"P4":0.6,"P5":33.5,"P6":0.6,"P7":18.0,"P8":0.9},
{"t":2200,"I":15.7,"N":5.6,"P1":34.5,"P2":0.6,"P3":28.5,"P4":0.7,"P5":34.0,"P6":0.6,"P7":19.0,"P8":1.0},
{"t":2300,"I":15.8,"N":5.2,"P1":33.0,"P2":0.6,"P3":29.5,"P4":0.6,"P5":39.0,"P6":0.7,"P7":21.0,"P8":1.1},
{"t":2400,"I":15.9,"N":5.4,"P1":34.0,"P2":0.7,"P3":31.0,"P4":0.6,"P5":33.0,"P6":0.6,"P7":20.0,"P8":0.9},
{"t":2500,"I":15.7,"N":5.0,"P1":33.5,"P2":0.6,"P3":33.5,"P4":0.6,"P5":32.5,"P6":0.6,"P7":19.0,"P8":1.0},
{"t":2600,"I":15.8,"N":5.3,"P1":32.5,"P2":0.6,"P3":33.0,"P4":0.7,"P5":33.5,"P6":0.6,"P7":18.5,"P8":1.0},
{"t":2700,"I":15.9,"N":5.5,"P1":35.5,"P2":0.7,"P3":32.0,"P4":0.6,"P5":34.0,"P6":0.7,"P7":20.5,"P8":0.9},
{"t":2800,"I":15.7,"N":5.1,"P1":33.0,"P2":0.6,"P3":31.0,"P4":0.6,"P5":32.0,"P6":0.6,"P7":22.0,"P8":1.1},
{"t":2900,"I":15.8,"N":5.4,"P1":32.0,"P2":0.6,"P3":30.0,"P4":0.7,"P5":31.5,"P6":0.6,"P7":25.0,"P8":1.0},
{"t":3000,"I":15.9,"N":5.2,"P1":32.5,"P2":0.7,"P3":31.5,"P4":0.6,"P5":32.0,"P6":0.6,"P7":28.5,"P8":0.9},
{"t":3100,"I":15.8,"N":5.5,"P1":33.0,"P2":0.6,"P3":29.5,"P4":0.6,"P5":31.0,"P6":0.7,"P7":29.5,"P8":1.0},
{"t":3200,"I":15.6,"N":5.1,"P1":32.5,"P2":0.6,"P3":28.5,"P4":0.7,"P5":30.5,"P6":0.6,"P7":30.0,"P8":1.0},
{"t":3300,"I":15.7,"N":5.3,"P1":31.5,"P2":0.6,"P3":30.5,"P4":0.6,"P5":28.0,"P6":0.6,"P7":28.0,"P8":1.1},
{"t":3400,"I":15.8,"N":5.5,"P1":32.5,"P2":0.7,"P3":30.0,"P4":0.6,"P5":29.0,"P6":0.7,"P7":29.5,"P8":0.9},
{"t":3500,"I":15.6,"N":5.2,"P1":33.5,"P2":0.6,"P3":29.5,"P4":0.6,"P5":30.5,"P6":0.6,"P7":30.5,"P8":1.0},
{"t":3600,"I":15.7,"N":5.6,"P1":32.0,"P2":0.6,"P3":31.0,"P4":0.7,"P5":31.5,"P6":0.6,"P7":30.0,"P8":1.0},
{"t":3700,"I":15.5,"N":5.1,"P1":31.0,"P2":0.7,"P3":29.0,"P4":0.6,"P5":29.5,"P6":0.6,"P7":31.0,"P8":1.1},
{"t":3800,"I":15.6,"N":5.4,"P1":32.5,"P2":0.6,"P3":28.0,"P4":0.6,"P5":30.0,"P6":0.7,"P7":30.5,"P8":1.0},
{"t":3900,"I":15.5,"N":5.0,"P1":30.5,"P2":0.6,"P3":26.5,"P4":0.7,"P5":31.0,"P6":0.6,"P7":31.0,"P8":0.9},
{"t":4000,"I":15.6,"N":4.9,"P1":28.5,"P2":0.6,"P3":24.5,"P4":0.6,"P5":32.0,"P6":0.6,"P7":30.5,"P8":1.0,"Th":20}
]
},
"hconcat": [
{"spacing": 13, "vconcat": [
{"width": 255, "height": 123,
 "title": {"text": "A", "anchor": "start", "frame": "group", "fontSize": 21, "fontWeight": "bold", "font": "Liberation Sans", "color": "#000", "baseline": "top", "dx": -43, "offset": -16},
 "layer": [
  {"data": {"name": "stim"}, "mark": {"type": "rule", "strokeWidth": 4, "color": "#111"},
   "encoding": {"x": {"field": "on", "type": "quantitative", "title": "time (s)"}, "x2": {"field": "off"}, "y": {"datum": 67, "type": "quantitative"}}},
  {"data": {"name": "A1"}, "transform": [{"fold": ["Th","I","N","P1","P2","P3","P4","P5","P6","P7","P8"], "as": ["series","rate"]}, {"filter": "isValid(datum.rate)"}],
   "mark": {"type": "line", "strokeWidth": 1.4},
   "encoding": {
    "x": {"field": "t", "type": "quantitative", "title": "time (s)", "scale": {"domain": [0,4000], "nice": false}, "axis": {"values": [0,1000,2000,3000,4000], "format": "d", "tickCount": 10}},
    "y": {"field": "rate", "type": "quantitative", "title": "Firing rate (Hz)", "scale": {"domain": [0,70], "nice": false}, "axis": {"values": [0,20,40,60], "format": "d", "tickCount": 10}},
    "color": {"field": "series", "type": "nominal", "scale": {"domain": ["Th","I","N","P1","P2","P3","P4","P5","P6","P7","P8"], "range": ["#999999","#e3262b","#111111","#2e4ea5","#7cc35f","#17843b","#d08a3c","#6fd2de","#c7b5d6","#a2359f","#7a4946"]}, "legend": {"title": null, "orient": "none", "legendX": 628, "legendY": 136, "symbolType": "stroke", "symbolSize": 600, "symbolStrokeWidth": 1.5, "labelFontSize": 12, "labelFont": "Liberation Sans", "labelColor": "#222", "labelOffset": 5, "rowPadding": 1, "clipHeight": 16, "labelExpr": "{'Th':'Threshold','I':'Inhibitory','N':'Non−selective','P1':'Pool 1','P2':'Pool 2','P3':'Pool 3','P4':'Pool 4','P5':'Pool 5','P6':'Pool 6','P7':'Pool 7','P8':'Pool 8'}[datum.label]"}},
    "strokeDash": {"field": "series", "type": "nominal", "scale": {"domain": ["Th","I","N","P1","P2","P3","P4","P5","P6","P7","P8"], "range": [[4,3],[1,0],[1,0],[1,0],[1,0],[1,0],[1,0],[1,0],[1,0],[1,0],[1,0]]}, "legend": {"title": null, "orient": "none", "legendX": 628, "legendY": 136, "symbolType": "stroke", "symbolSize": 600, "symbolStrokeWidth": 1.5, "labelFontSize": 12, "labelFont": "Liberation Sans", "labelColor": "#222", "labelOffset": 5, "rowPadding": 1, "clipHeight": 16, "labelExpr": "{'Th':'Threshold','I':'Inhibitory','N':'Non−selective','P1':'Pool 1','P2':'Pool 2','P3':'Pool 3','P4':'Pool 4','P5':'Pool 5','P6':'Pool 6','P7':'Pool 7','P8':'Pool 8'}[datum.label]"}}
   }}
 ]},
{"width": 255, "height": 113,
 "layer": [
  {"data": {"name": "stim"}, "mark": {"type": "rule", "strokeWidth": 4, "color": "#111"},
   "encoding": {"x": {"field": "on", "type": "quantitative", "title": "time (ms)"}, "x2": {"field": "off"}, "y": {"datum": 67, "type": "quantitative"}}},
  {"data": {"name": "A2"}, "transform": [{"fold": ["Th","I","N","P1","P2","P3","P4","P5","P6","P7","P8"], "as": ["series","rate"]}, {"filter": "isValid(datum.rate)"}],
   "mark": {"type": "line", "strokeWidth": 1.4},
   "encoding": {
    "x": {"field": "t", "type": "quantitative", "title": "time (ms)", "scale": {"domain": [0,4000], "nice": false}, "axis": {"values": [0,1000,2000,3000,4000], "format": "d", "tickCount": 10}},
    "y": {"field": "rate", "type": "quantitative", "title": "Firing rate (Hz)", "scale": {"domain": [0,70], "nice": false}, "axis": {"values": [0,20,40,60], "format": "d", "tickCount": 10}},
    "color": {"field": "series", "type": "nominal"},
    "strokeDash": {"field": "series", "type": "nominal"}
   }}
 ]},
{"width": 255, "height": 111,
 "layer": [
  {"data": {"name": "stim"}, "mark": {"type": "rule", "strokeWidth": 4, "color": "#111"},
   "encoding": {"x": {"field": "on", "type": "quantitative", "title": "time (ms)"}, "x2": {"field": "off"}, "y": {"datum": 67, "type": "quantitative"}}},
  {"data": {"name": "A3"}, "transform": [{"fold": ["Th","I","N","P1","P2","P3","P4","P5","P6","P7","P8"], "as": ["series","rate"]}, {"filter": "isValid(datum.rate)"}],
   "mark": {"type": "line", "strokeWidth": 1.4},
   "encoding": {
    "x": {"field": "t", "type": "quantitative", "title": "time (ms)", "scale": {"domain": [0,4000], "nice": false}, "axis": {"values": [0,1000,2000,3000,4000], "format": "d", "tickCount": 10}},
    "y": {"field": "rate", "type": "quantitative", "title": "Firing rate (Hz)", "scale": {"domain": [0,70], "nice": false}, "axis": {"values": [0,20,40,60], "format": "d", "tickCount": 10}},
    "color": {"field": "series", "type": "nominal"},
    "strokeDash": {"field": "series", "type": "nominal"}
   }}
 ]}
]},
{"spacing": 13, "vconcat": [
{"width": 257, "height": 123,
 "title": {"text": "B", "anchor": "start", "frame": "group", "fontSize": 21, "fontWeight": "bold", "font": "Liberation Sans", "color": "#000", "baseline": "top", "dx": -43, "offset": -16},
 "layer": [
  {"data": {"name": "stim"}, "mark": {"type": "rule", "strokeWidth": 4, "color": "#111"},
   "encoding": {"x": {"field": "on", "type": "quantitative", "title": "time (ms)"}, "x2": {"field": "off"}, "y": {"datum": 67, "type": "quantitative"}}},
  {"data": {"name": "B1"}, "transform": [{"fold": ["Th","I","N","P1","P2","P3","P4","P5","P6","P7","P8"], "as": ["series","rate"]}, {"filter": "isValid(datum.rate)"}],
   "mark": {"type": "line", "strokeWidth": 1.4},
   "encoding": {
    "x": {"field": "t", "type": "quantitative", "title": "time (ms)", "scale": {"domain": [0,4000], "nice": false}, "axis": {"values": [0,1000,2000,3000,4000], "format": "d", "tickCount": 10}},
    "y": {"field": "rate", "type": "quantitative", "title": "Firing rate (Hz)", "scale": {"domain": [0,70], "nice": false}, "axis": {"values": [0,20,40,60], "format": "d", "tickCount": 10}},
    "color": {"field": "series", "type": "nominal"},
    "strokeDash": {"field": "series", "type": "nominal"}
   }}
 ]},
{"width": 257, "height": 113,
 "layer": [
  {"data": {"name": "stim"}, "mark": {"type": "rule", "strokeWidth": 4, "color": "#111"},
   "encoding": {"x": {"field": "on", "type": "quantitative", "title": "time (ms)"}, "x2": {"field": "off"}, "y": {"datum": 67, "type": "quantitative"}}},
  {"data": {"name": "B2"}, "transform": [{"fold": ["Th","I","N","P1","P2","P3","P4","P5","P6","P7","P8"], "as": ["series","rate"]}, {"filter": "isValid(datum.rate)"}],
   "mark": {"type": "line", "strokeWidth": 1.4},
   "encoding": {
    "x": {"field": "t", "type": "quantitative", "title": "time (ms)", "scale": {"domain": [0,4000], "nice": false}, "axis": {"values": [0,1000,2000,3000,4000], "format": "d", "tickCount": 10}},
    "y": {"field": "rate", "type": "quantitative", "title": "Firing rate (Hz)", "scale": {"domain": [0,70], "nice": false}, "axis": {"values": [0,20,40,60], "format": "d", "tickCount": 10}},
    "color": {"field": "series", "type": "nominal"},
    "strokeDash": {"field": "series", "type": "nominal"}
   }}
 ]},
{"width": 257, "height": 111,
 "layer": [
  {"data": {"name": "stim"}, "mark": {"type": "rule", "strokeWidth": 4, "color": "#111"},
   "encoding": {"x": {"field": "on", "type": "quantitative", "title": "time (ms)"}, "x2": {"field": "off"}, "y": {"datum": 67, "type": "quantitative"}}},
  {"data": {"name": "B3"}, "transform": [{"fold": ["Th","I","N","P1","P2","P3","P4","P5","P6","P7","P8"], "as": ["series","rate"]}, {"filter": "isValid(datum.rate)"}],
   "mark": {"type": "line", "strokeWidth": 1.4},
   "encoding": {
    "x": {"field": "t", "type": "quantitative", "title": "time (ms)", "scale": {"domain": [0,4000], "nice": false}, "axis": {"values": [0,1000,2000,3000,4000], "format": "d", "tickCount": 10}},
    "y": {"field": "rate", "type": "quantitative", "title": "Firing rate (Hz)", "scale": {"domain": [0,70], "nice": false}, "axis": {"values": [0,20,40,60], "format": "d", "tickCount": 10}},
    "color": {"field": "series", "type": "nominal"},
    "strokeDash": {"field": "series", "type": "nominal"}
   }}
 ]}
]}
],
"spacing": 22,
"config": {
 "view": {"stroke": null},
 "font": "Liberation Sans",
 "axis": {"labelFont": "Liberation Sans", "titleFont": "Liberation Sans", "labelFontSize": 13, "titleFontSize": 13, "titleFontWeight": "normal", "labelColor": "#222", "titleColor": "#222", "domainColor": "#666", "tickColor": "#666", "tickSize": -3, "labelPadding": 6, "grid": false, "labelOverlap": false},
 "axisX": {"labelFlush": false, "titlePadding": 2},
 "axisY": {"titlePadding": 3},
 "legend": {"labelFont": "Liberation Sans"}
}
}
